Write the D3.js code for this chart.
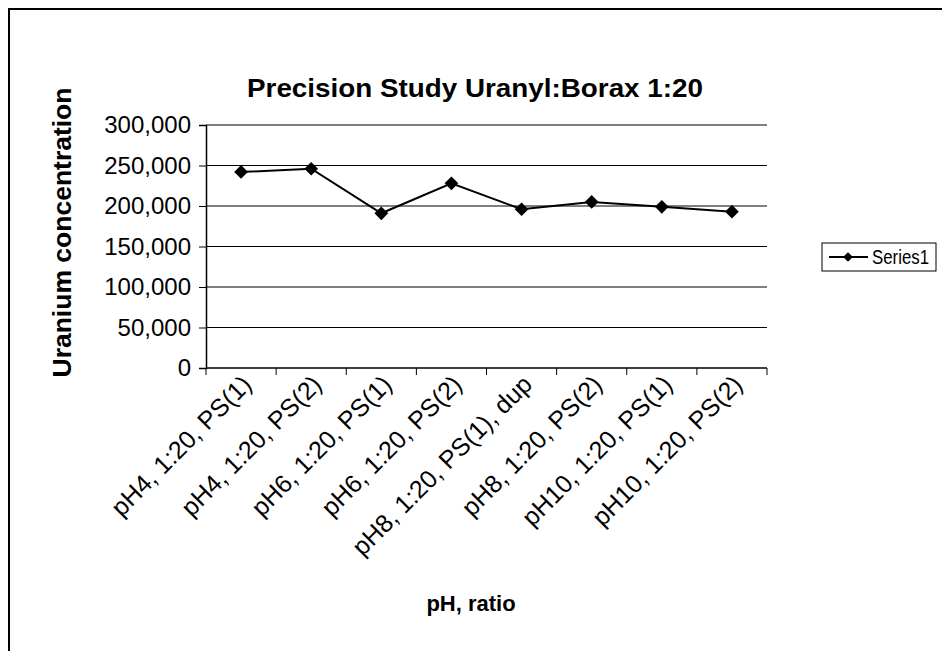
<!DOCTYPE html>
<html>
<head>
<meta charset="utf-8">
<script src="https://cdn.jsdelivr.net/npm/d3@7"></script>
<style>
  body { margin: 0; background: #fff; }
  text { font-family: "Liberation Sans", Arial, sans-serif; fill: #000; }
</style>
</head>
<body>
<script>
const categories = [
  'pH4, 1:20, PS(1)', 'pH4, 1:20, PS(2)', 'pH6, 1:20, PS(1)', 'pH6, 1:20, PS(2)',
  'pH8, 1:20, PS(1), dup', 'pH8, 1:20, PS(2)', 'pH10, 1:20, PS(1)', 'pH10, 1:20, PS(2)'
];
const series1 = [242000, 246000, 191000, 228000, 196000, 205000, 199000, 193000];
const yTicks = [0, 50000, 100000, 150000, 200000, 250000, 300000];

const width = 942, height = 651;
const plot = { left: 206, right: 767, top: 125, bottom: 368 };

const svg = d3.select('body').append('svg')
  .attr('width', width)
  .attr('height', height);

// outer frame (left + top only, as scanned)
svg.append('path')
  .attr('d', `M9,${height} L9,9 L${width},9`)
  .attr('fill', 'none')
  .attr('stroke', '#000')
  .attr('stroke-width', 2);

const x = d3.scaleBand()
  .domain(categories)
  .range([plot.left, plot.right]);

const y = d3.scaleLinear()
  .domain([0, 300000])
  .range([plot.bottom, plot.top]);

// gridlines
svg.append('g')
  .selectAll('line')
  .data(yTicks.filter(d => d > 0))
  .enter()
  .append('line')
  .attr('x1', plot.left)
  .attr('x2', plot.right)
  .attr('y1', d => y(d))
  .attr('y2', d => y(d))
  .attr('stroke', '#000')
  .attr('stroke-width', 1);

// y axis
const yAxis = svg.append('g')
  .attr('transform', `translate(${plot.left},0)`)
  .call(d3.axisLeft(y).tickValues(yTicks).tickSize(7).tickPadding(8)
    .tickFormat(d3.format(',')));
yAxis.select('.domain').attr('stroke', '#000').attr('stroke-width', 1.5);
yAxis.selectAll('.tick line').attr('stroke', '#000');
yAxis.selectAll('text')
  .style('font-size', '24px')
  .style('font-family', '"Liberation Sans", Arial, sans-serif');

// x axis: ticks at category boundaries
const boundaries = categories.map(c => x(c)).concat([plot.right]);
svg.append('line')
  .attr('x1', plot.left).attr('x2', plot.right)
  .attr('y1', plot.bottom).attr('y2', plot.bottom)
  .attr('stroke', '#000').attr('stroke-width', 1.5);
svg.append('g')
  .selectAll('line')
  .data(boundaries)
  .enter()
  .append('line')
  .attr('x1', d => d).attr('x2', d => d)
  .attr('y1', plot.bottom).attr('y2', plot.bottom + 7)
  .attr('stroke', '#000');

svg.append('g')
  .selectAll('text')
  .data(categories)
  .enter()
  .append('text')
  .attr('text-anchor', 'end')
  .attr('transform', d => `translate(${x(d) + x.bandwidth() / 2 + 12},${plot.bottom + 18}) rotate(-45)`)
  .style('font-size', '25px')
  .text(d => d);

// line + markers
const cx = d => x(d) + x.bandwidth() / 2;
svg.append('path')
  .datum(series1)
  .attr('fill', 'none')
  .attr('stroke', '#000')
  .attr('stroke-width', 2)
  .attr('d', d3.line().x((d, i) => cx(categories[i])).y(d => y(d)));

const diamond = d3.symbol().type(d3.symbolDiamond2).size(120);
svg.append('g')
  .selectAll('path')
  .data(series1)
  .enter()
  .append('path')
  .attr('d', diamond)
  .attr('transform', (d, i) => `translate(${cx(categories[i])},${y(d)})`)
  .attr('fill', '#000');

// titles
svg.append('text')
  .attr('x', 475).attr('y', 97)
  .attr('text-anchor', 'middle')
  .attr('textLength', 456)
  .attr('lengthAdjust', 'spacingAndGlyphs')
  .style('font-size', '25px')
  .style('font-weight', 'bold')
  .text('Precision Study Uranyl:Borax 1:20');

svg.append('text')
  .attr('transform', `translate(71,${(plot.top + plot.bottom) / 2 - 14}) rotate(-90)`)
  .attr('text-anchor', 'middle')
  .attr('textLength', 290)
  .attr('lengthAdjust', 'spacingAndGlyphs')
  .style('font-size', '25px')
  .style('font-weight', 'bold')
  .text('Uranium concentration');

svg.append('text')
  .attr('x', 471).attr('y', 611)
  .attr('text-anchor', 'middle')
  .style('font-size', '22px')
  .style('font-weight', 'bold')
  .text('pH, ratio');

// legend
const legend = svg.append('g').attr('transform', 'translate(822,243)');
legend.append('rect')
  .attr('width', 114).attr('height', 28)
  .attr('fill', '#fff')
  .attr('stroke', '#000')
  .attr('stroke-width', 1);
legend.append('line')
  .attr('x1', 7).attr('x2', 46).attr('y1', 14).attr('y2', 14)
  .attr('stroke', '#000').attr('stroke-width', 2);
legend.append('path')
  .attr('d', d3.symbol().type(d3.symbolDiamond2).size(60))
  .attr('transform', 'translate(26,14)')
  .attr('fill', '#000');
legend.append('text')
  .attr('x', 50).attr('y', 21)
  .attr('textLength', 57)
  .attr('lengthAdjust', 'spacingAndGlyphs')
  .style('font-size', '20px')
  .text('Series1');
</script>
</body>
</html>
